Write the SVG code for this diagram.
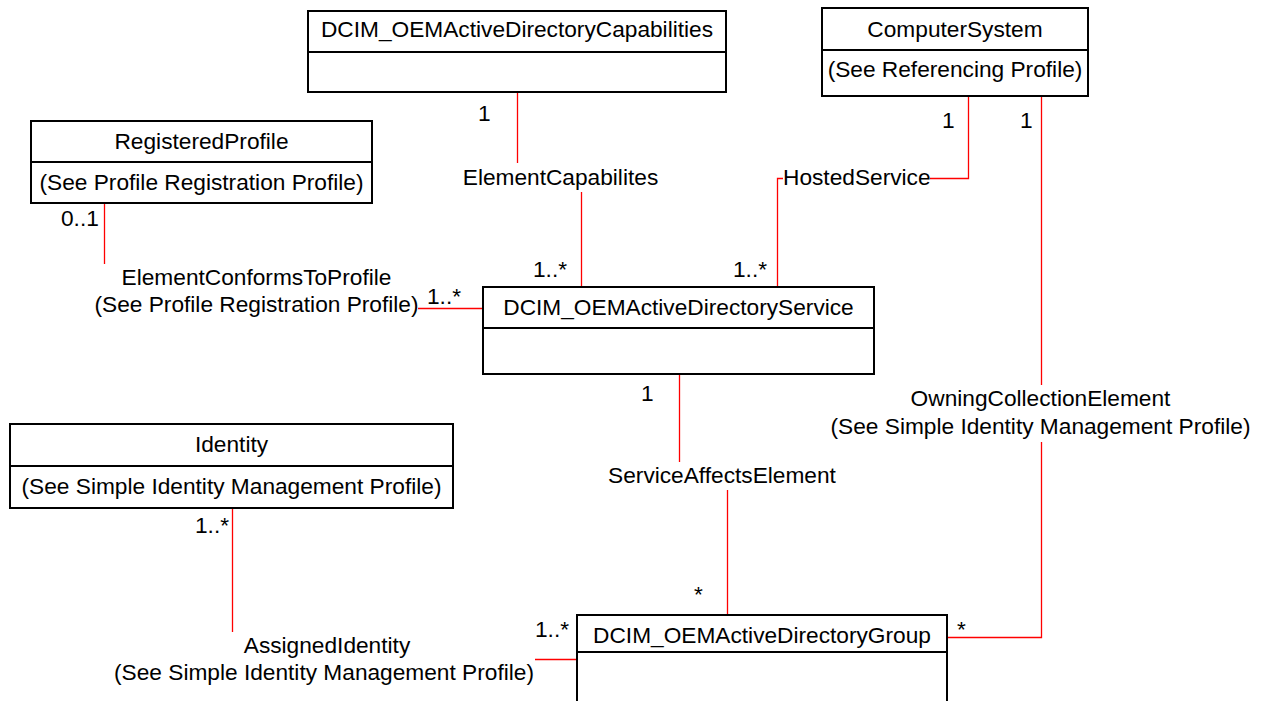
<svg xmlns="http://www.w3.org/2000/svg" width="1261" height="701" viewBox="0 0 1261 701">
<style>
text{font-family:"Liberation Sans",Arial,sans-serif;font-size:22.7px;fill:#000}
.c{text-anchor:middle}
.box{fill:#fff;stroke:#000;stroke-width:2}
.div{stroke:#000;stroke-width:2}
.ln{fill:none;stroke:#ff0000;stroke-width:1.3}
</style>
<rect width="1261" height="701" fill="#fff"/>
<g id="connectors">
<line class="ln" x1="517.5" y1="92" x2="517.5" y2="163"/>
<line class="ln" x1="581.5" y1="192" x2="581.5" y2="287"/>
<polyline class="ln" points="930,178.5 968.5,178.5 968.5,96"/>
<polyline class="ln" points="783,178.5 777.5,178.5 777.5,287"/>
<line class="ln" x1="104.5" y1="203" x2="104.5" y2="264"/>
<line class="ln" x1="418" y1="308.5" x2="483" y2="308.5"/>
<line class="ln" x1="679.5" y1="374" x2="679.5" y2="462"/>
<line class="ln" x1="727.5" y1="490" x2="727.5" y2="615"/>
<line class="ln" x1="1041.5" y1="96" x2="1041.5" y2="385"/>
<polyline class="ln" points="1041.5,442 1041.5,637.5 947,637.5"/>
<line class="ln" x1="232.5" y1="508" x2="232.5" y2="632"/>
<line class="ln" x1="535" y1="659.5" x2="577" y2="659.5"/>
</g>
<g id="labels">
<text x="478" y="121">1</text>
<text x="942" y="128">1</text>
<text x="1020" y="128">1</text>
<text x="61" y="226">0..1</text>
<text x="427" y="304">1..*</text>
<text x="533" y="277">1..*</text>
<text x="733" y="277">1..*</text>
<text x="641" y="401">1</text>
<text x="195" y="533">1..*</text>
<text x="694" y="602">*</text>
<text x="957" y="637">*</text>
<text x="535" y="637">1..*</text>
<text class="c" x="560.5" y="185">ElementCapabilites</text>
<text x="783" y="185">HostedService</text>
<text class="c" x="256.5" y="285">ElementConformsToProfile</text>
<text class="c" x="256.5" y="312">(See Profile Registration Profile)</text>
<text class="c" x="722" y="483">ServiceAffectsElement</text>
<text class="c" x="1040.5" y="406">OwningCollectionElement</text>
<text class="c" x="1040.5" y="434">(See Simple Identity Management Profile)</text>
<text class="c" x="327" y="653">AssignedIdentity</text>
<text class="c" x="324" y="680">(See Simple Identity Management Profile)</text>
</g>
<g id="capabilities">
<rect class="box" x="308" y="11" width="418" height="81"/>
<line class="div" x1="308" y1="52" x2="726" y2="52"/>
<text class="c" x="517" y="37">DCIM_OEMActiveDirectoryCapabilities</text>
</g>
<g id="computersystem">
<rect class="box" x="822" y="8" width="266" height="88"/>
<line class="div" x1="822" y1="50" x2="1088" y2="50"/>
<text class="c" x="955" y="37">ComputerSystem</text>
<text class="c" x="955" y="77">(See Referencing Profile)</text>
</g>
<g id="registeredprofile">
<rect class="box" x="31" y="121" width="341" height="82"/>
<line class="div" x1="31" y1="162" x2="372" y2="162"/>
<text class="c" x="201.5" y="149">RegisteredProfile</text>
<text class="c" x="201.5" y="190">(See Profile Registration Profile)</text>
</g>
<g id="service">
<rect class="box" x="483" y="287" width="391" height="87"/>
<line class="div" x1="483" y1="328" x2="874" y2="328"/>
<text class="c" x="678.5" y="315">DCIM_OEMActiveDirectoryService</text>
</g>
<g id="identity">
<rect class="box" x="10" y="424" width="443" height="84"/>
<line class="div" x1="10" y1="466" x2="453" y2="466"/>
<text class="c" x="231.5" y="452">Identity</text>
<text class="c" x="231.5" y="494">(See Simple Identity Management Profile)</text>
</g>
<g id="group">
<rect class="box" x="577" y="615" width="370" height="100"/>
<line class="div" x1="577" y1="652" x2="947" y2="652"/>
<text class="c" x="762" y="643">DCIM_OEMActiveDirectoryGroup</text>
</g>
</svg>
